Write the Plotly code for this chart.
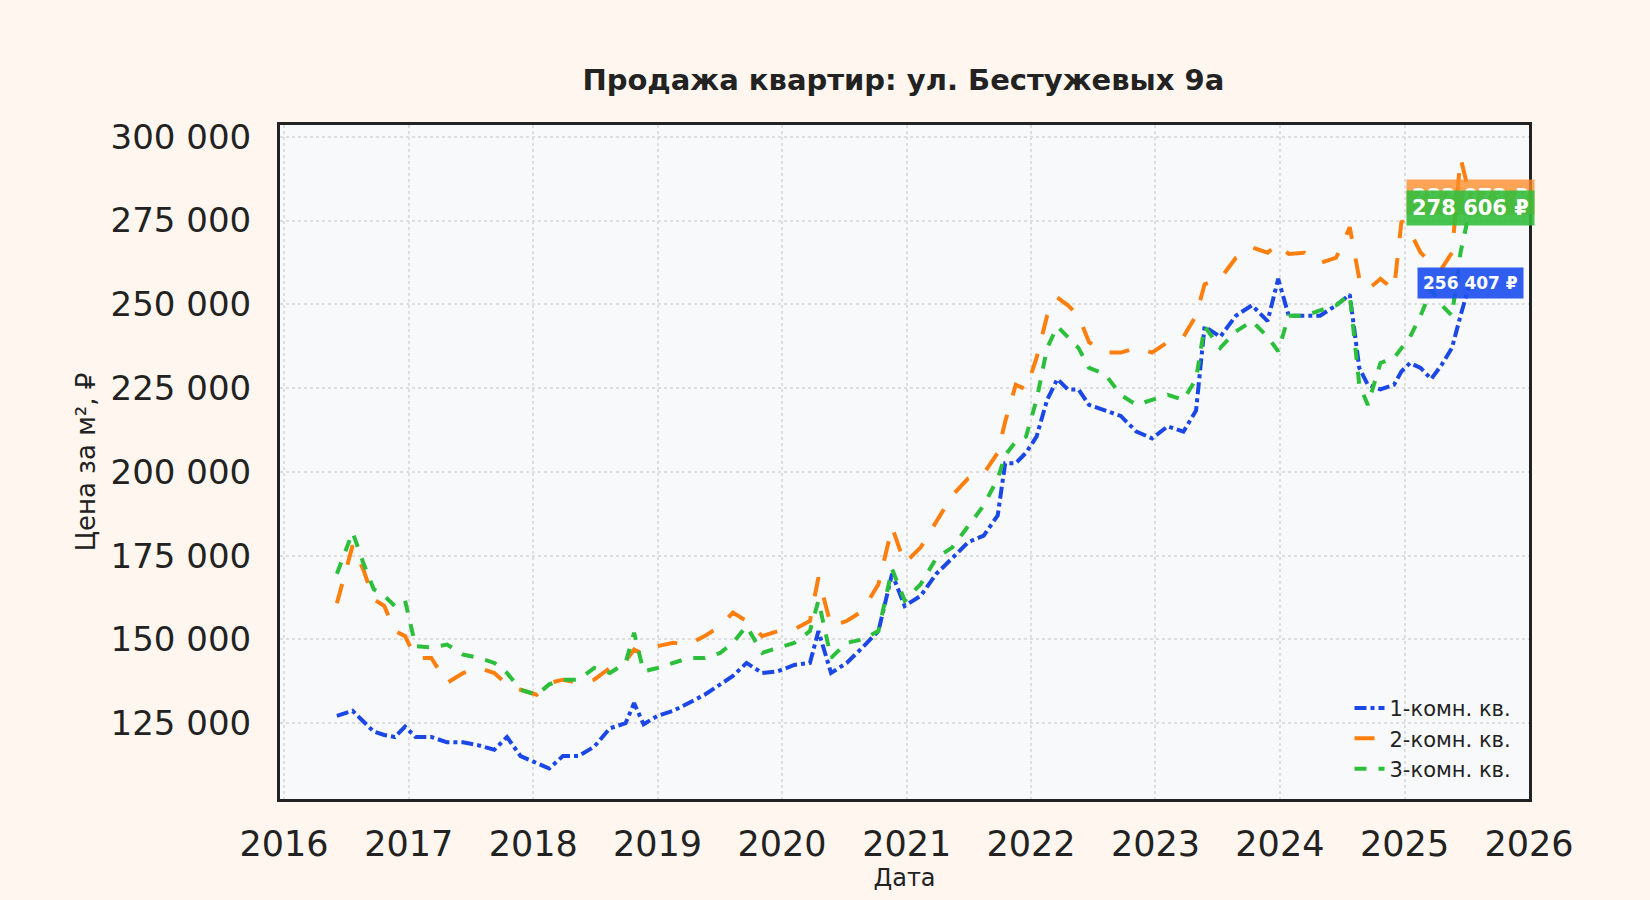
import plotly.graph_objects as go

# --- Data, prices in thousands of rubles per m2 ---
dates = [
    "2016-06-04", "2016-07-20", "2016-08-20", "2016-09-20", "2016-10-21", "2016-11-21",
    "2016-12-21", "2017-01-21", "2017-03-08", "2017-04-23", "2017-06-09", "2017-07-25",
    "2017-09-09", "2017-10-16", "2017-11-25", "2018-01-11", "2018-02-17", "2018-03-29",
    "2018-05-14", "2018-06-29", "2018-08-14", "2018-09-29", "2018-10-24", "2018-11-21",
    "2019-01-01", "2019-02-16", "2019-04-03", "2019-05-19", "2019-07-04", "2019-08-10",
    "2019-09-19", "2019-11-04", "2019-12-20", "2020-02-06", "2020-03-23", "2020-04-17",
    "2020-05-24", "2020-07-09", "2020-08-24", "2020-10-10", "2020-11-19", "2020-12-26",
    "2021-02-11", "2021-03-29", "2021-05-15", "2021-06-30", "2021-08-15", "2021-09-25",
    "2021-10-17", "2021-11-17", "2021-12-17", "2022-01-17", "2022-02-17", "2022-03-19",
    "2022-04-19", "2022-05-20", "2022-06-20", "2022-08-05", "2022-09-21", "2022-11-06",
    "2022-12-22", "2023-02-06", "2023-03-24", "2023-04-30", "2023-05-25", "2023-07-10",
    "2023-08-25", "2023-10-11", "2023-11-26", "2023-12-27", "2024-01-27", "2024-03-13",
    "2024-04-28", "2024-06-14", "2024-07-24", "2024-08-21", "2024-09-15", "2024-10-22",
    "2024-12-01", "2024-12-23", "2025-01-17", "2025-02-17", "2025-03-20", "2025-04-20",
    "2025-05-20", "2025-06-14", "2025-07-12",
]

one_room = [
    127.2, 128.7, 125.6, 122.5, 121.5, 120.9, 124.0, 120.9, 120.9, 119.3, 119.3, 118.4,
    117.1, 120.9, 115.2, 113.0, 111.5, 115.2, 115.2, 118.0, 123.5, 125.0, 131.0, 124.7,
    127.2, 128.7, 131.0, 133.5, 136.6, 139.1, 143.0, 140.0, 140.5, 142.4, 143.0, 152.5,
    140.0, 143.0, 147.6, 152.5, 169.6, 160.0, 163.0, 169.6, 174.3, 179.0, 181.0, 187.0,
    202.6, 202.6, 205.7, 210.5, 221.5, 227.7, 224.6, 224.6, 220.0, 218.3, 216.7, 212.0,
    210.0, 213.6, 212.0, 218.3, 243.4, 240.3, 246.6, 249.7, 245.0, 257.6, 246.6, 246.6,
    246.6, 249.7, 252.9, 231.0, 226.0, 224.6, 226.0, 230.0, 232.5, 231.0, 227.7, 232.0,
    237.0, 246.6, 256.407,
]

two_room = [
    160.8, 178.0, 171.0, 162.0, 160.0, 152.5, 151.0, 144.5, 144.5, 137.0, 140.0, 141.5,
    140.0, 136.6, 135.0, 133.5, 137.0, 138.0, 137.0, 138.0, 141.5, 143.5, 147.0, 145.5,
    148.0, 149.0, 148.5, 151.0, 154.0, 158.0, 155.5, 151.0, 152.5, 153.0, 155.5, 168.5,
    154.0, 155.5, 158.5, 166.5, 183.5, 172.7, 177.5, 185.3, 193.0, 198.0, 199.5, 205.7,
    215.0, 226.0, 224.6, 234.0, 246.6, 252.0, 249.7, 246.6, 238.7, 235.6, 235.6, 237.0,
    235.6, 238.7, 240.3, 246.6, 256.0, 257.6, 263.9, 267.0, 265.4, 268.0, 265.0, 265.4,
    262.3, 263.9, 273.0, 257.6, 254.4, 257.6, 254.4, 274.9, 271.7, 265.4, 262.3, 260.7,
    265.4, 293.7, 282.073,
]

three_room = [
    169.6, 182.0, 173.0, 165.0, 163.0, 160.0, 161.6, 148.0, 147.6, 148.5, 145.5, 144.5,
    143.0, 140.0, 135.0, 133.5, 136.6, 138.0, 138.0, 141.5, 140.0, 143.0, 152.0, 140.5,
    141.5, 143.0, 144.5, 144.5, 146.0, 149.0, 154.0, 146.0, 147.6, 149.0, 152.5, 161.6,
    144.5, 149.0, 150.0, 152.5, 171.0, 161.6, 166.5, 174.3, 177.5, 183.7, 190.0, 198.0,
    205.0, 209.0, 210.5, 221.5, 237.0, 243.4, 240.3, 237.0, 231.0, 229.3, 223.0, 220.0,
    221.5, 223.0, 221.5, 227.7, 243.4, 237.0, 241.9, 245.0, 240.3, 236.0, 246.6, 246.6,
    248.2, 249.7, 252.9, 226.0, 220.0, 232.5, 234.0, 237.0, 240.3, 246.6, 254.4, 249.7,
    246.6, 265.4, 278.606,
]

y_ticks = [125000, 150000, 175000, 200000, 225000, 250000, 275000, 300000]

# name, values, line colour, dash, label box colour, label font size
series = [
    ("1-комн. кв.", one_room, "#1a47e6", "dashdot", "rgba(30,80,240,0.92)", 17),
    ("2-комн. кв.", two_room, "#ff7f0e", "longdash", "rgba(255,140,40,0.78)", 21),
    ("3-комн. кв.", three_room, "#2bbf3c", "dash", "rgba(50,190,60,0.9)", 21),
]

FONT = "DejaVu Sans"
INK = "#222222"

fig = go.Figure()

for name, vals, color, dash, _, _ in series:
    fig.add_trace(go.Scatter(
        x=dates,
        y=[v * 1000 for v in vals],
        mode="lines",
        name=name,
        line=dict(color=color, width=4, dash=dash),
    ))

# value labels at the last point of each series (orange under green, blue on top)
for idx in [1, 2, 0]:
    name, vals, color, dash, box, fsize = series[idx]
    last = round(vals[-1] * 1000)
    fig.add_annotation(
        x=dates[-1],
        y=last,
        text="<b>" + f"{last:,}".replace(",", " ") + " ₽</b>",
        showarrow=False,
        font=dict(family=FONT, size=fsize, color="white"),
        bgcolor=box,
        borderpad=5,
        xanchor="center",
        yanchor="middle",
    )

fig.update_layout(
    width=1650,
    height=900,
    paper_bgcolor="#fff7ef",
    plot_bgcolor="#f8f9fa",
    font=dict(family=FONT, color=INK),
    margin=dict(l=280, r=121, t=125, b=101),
    title=dict(
        text="<b>Продажа квартир: ул. Бестужевых 9а</b>",
        x=0.5475,
        xanchor="center",
        y=0.911,
        yanchor="middle",
        font=dict(family=FONT, size=29, color=INK),
    ),
    legend=dict(
        x=0.99,
        y=0.015,
        xanchor="right",
        yanchor="bottom",
        bgcolor="rgba(0,0,0,0)",
        font=dict(family=FONT, size=21, color=INK),
    ),
    showlegend=True,
)

fig.update_xaxes(
    range=["2015-12-20", "2026-01-01"],
    dtick="M12",
    tick0="2016-01-01",
    tickformat="%Y",
    tickfont=dict(size=35, color=INK),
    showline=True,
    mirror=True,
    linecolor=INK,
    linewidth=3,
    showgrid=True,
    gridcolor="#dedede",
    gridwidth=1.5,
    griddash="dot",
    zeroline=False,
    ticks="",
    ticklabelstandoff=12,
    title=dict(text="Дата", font=dict(size=24, color=INK), standoff=6),
)

fig.update_yaxes(
    range=[102400, 303500],
    tickvals=y_ticks,
    ticktext=[f"{v:,}".replace(",", " ") for v in y_ticks],
    tickfont=dict(size=34, color=INK),
    showline=True,
    mirror=True,
    linecolor=INK,
    linewidth=3,
    showgrid=True,
    gridcolor="#dedede",
    gridwidth=1.5,
    griddash="dot",
    zeroline=False,
    ticks="",
    ticklabelstandoff=19,
    title=dict(text="Цена за м², ₽", font=dict(size=26, color=INK), standoff=8),
)

# page body without its default margin, so the figure fills the window
fig.write_html(
    "out.html",
    config={"displayModeBar": False},
    post_script="document.body.style.margin = '0';",
)
